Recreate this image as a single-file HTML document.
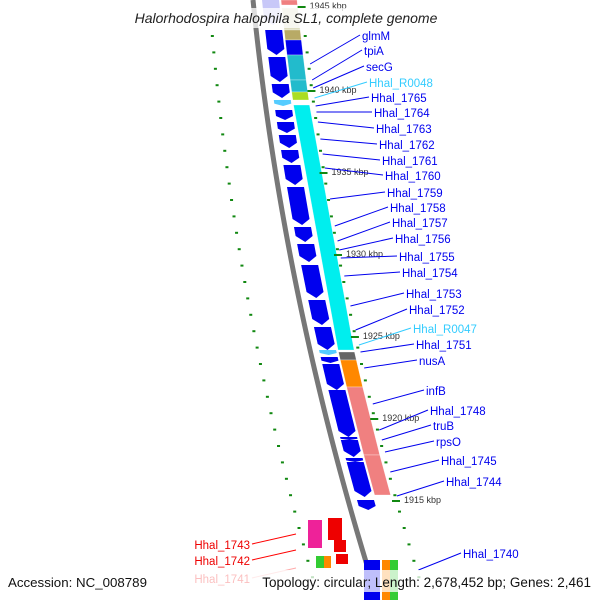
<!DOCTYPE html>
<html><head><meta charset="utf-8"><style>
body{margin:0;background:#fff;}
svg{display:block;font-family:"Liberation Sans",sans-serif;}
</style></head><body>
<svg id="map" width="600" height="600" viewBox="0 0 600 600">
<g id="g"></g>
</svg>
<script>
// data arrays
const kbpLabels = [1945,1940,1935,1930,1925,1920,1915];
const kbpY = [6,90,172,254,336,418,500];
const innerStart = [0,30,57,84,100,110,122,135,150,165,187,227,244,265,300,327,350,357,364,390,437,440,458,462,500];
const innerEnd   = [25,55,82,98,106,120,133,148,163,185,225,242,262,298,325,350,355,363,390,437,440,457,462,497,510];
const innerColor = ['#c8c8f8','#0000ee','#0000ee','#0000ee','#55ccff','#0000ee','#0000ee','#0000ee','#0000ee','#0000ee','#0000ee','#0000ee','#0000ee','#0000ee','#0000ee','#0000ee','#55ccff','#0000ee','#0000ee','#0000ee','#0000ee','#0000ee','#0000ee','#0000ee','#0000ee'];
const outerStart = [0,8,30,40,55,80,92,105,352,360,387,455];
const outerEnd   = [5,30,40,55,80,92,100,350,360,387,455,495];
const outerColor = ['#f08080','#ddddc0','#b8aa66','#0000ee','#22bbcc','#22bbcc','#aadd22','#00eeee','#666666','#ff8800','#f08080','#f08080'];
const labels = ['glmM','tpiA','secG','Hhal_R0048','Hhal_1765','Hhal_1764','Hhal_1763','Hhal_1762','Hhal_1761','Hhal_1760','Hhal_1759','Hhal_1758','Hhal_1757','Hhal_1756','Hhal_1755','Hhal_1754','Hhal_1753','Hhal_1752','Hhal_R0047','Hhal_1751','nusA','infB','Hhal_1748','truB','rpsO','Hhal_1745','Hhal_1744','Hhal_1740'];
const labelX = [362,364,366,369,371,374,376,379,382,385,387,390,392,395,399,402,406,409,413,416,419,426,430,433,436,441,446,463];
const labelY = [37,52,68,84,99,114,130,146,162,177,194,209,224,240,258,274,295,311,330,346,362,392,412,427,443,462,483,555];
const targetY = [64,80,88,98,106,112,122,139,154,168,199,226,241,250,258,276,306,330,345,352,368,404,430,440,452,472,496,570];
const redLabels = ['Hhal_1743','Hhal_1742','Hhal_1741'];
const redY = [546,562,580];

const g = document.getElementById('g');
const NS='http://www.w3.org/2000/svg';
function bx(y){return 253+0.1*y+0.00018*y*y;}
function mk(tag,attrs,parent){const e=document.createElementNS(NS,tag);for(const k in attrs)e.setAttribute(k,attrs[k]);(parent||g).appendChild(e);return e;}
function band(y0,y1,o0,o1){return `${bx(y0)+o0},${y0} ${bx(y0)+o1},${y0} ${bx(y1)+o1},${y1} ${bx(y1)+o0},${y1}`;}

// tick dots
for(let y=35;y<=590;y+=16.4){
  const d1=mk('rect',{x:bx(y)-45-0.025*y,y:y,width:3,height:2,fill:'#118811'});
  
  
  const d2=mk('rect',{x:bx(y)+47,y:y,width:3,height:2,fill:'#118811'});
  
  
}
// backbone
let pts=[];for(let y=0;y<=600;y+=10)pts.push(bx(y)+','+y);
const bb=mk('polyline',{points:pts.join(' '),fill:'none',stroke:'#777',"stroke-width":5});


// inner genes
innerStart.forEach((s,i)=>{
  const e=innerEnd[i];const ah=Math.min(6,(e-s)*0.4);
  const p=`${bx(s)+9},${s} ${bx(s)+26},${s} ${bx(e-ah)+26},${e-ah} ${bx(e)+17.5},${e} ${bx(e-ah)+9},${e-ah}`;
  const el=mk('polygon',{points:p,fill:innerColor[i]});
  
  
});
// outer genes
outerStart.forEach((s,i)=>{
  const el=mk('polygon',{points:band(s,outerEnd[i],28,44),fill:outerColor[i],stroke:'rgba(255,255,255,0.6)',"stroke-width":0.5});
  
  
});
// bottom genes
[[308,520,14,28,'#ee2299'],[328,518,14,22,'#ee0000'],[334,540,12,12,'#ee0000'],[336,554,12,10,'#ee0000'],[316,556,8,12,'#33cc33'],[324,556,7,12,'#ff8800'],[364,560,16,40,'#0000ee'],[382,560,8,40,'#ff8800'],[390,560,8,40,'#33cc33']].forEach(b=>{
  const el=mk('rect',{x:b[0],y:b[1],width:b[2],height:b[3],fill:b[4]});
  
  
});
// kbp labels
kbpLabels.forEach((k,i)=>{
  const y=kbpY[i];
  mk('rect',{x:bx(y)+44,y:y,width:8,height:2,fill:'#118811'});
  const t=mk('text',{x:bx(y)+56,y:y+3,"font-size":9,fill:'#333'});
  t.textContent=k+' kbp';
  
  
});
// gene labels
labels.forEach((l,i)=>{
  const c=l.indexOf('R00')>=0?'#33ccff':'#0000ee';
  const ty=targetY[i];
  mk('line',{x1:bx(ty)+50,y1:ty,x2:labelX[i]-2,y2:labelY[i]-2,stroke:c,"stroke-width":1});
  const t=mk('text',{x:labelX[i],y:labelY[i]+3,"font-size":11.5,fill:c});
  t.textContent=l;
  
  
});
redLabels.forEach((l,i)=>{
  const y=redY[i];
  mk('line',{x1:252,y1:y-2,x2:296,y2:y-12,stroke:i==2?'#ffaaaa':'#ff0000',"stroke-width":1});
  const t=mk('text',{x:250,y:y+3,"font-size":11.5,fill:'#ee0000',"text-anchor":'end'});
  t.textContent=l;
  
  
});
// title & footer
mk('rect',{x:128,y:8,width:316,height:20,fill:'rgba(255,255,255,0.75)'});
const ti=mk('text',{x:286,y:23,"font-size":14,"font-style":'italic',"text-anchor":'middle',fill:'#222'});
ti.textContent='Halorhodospira halophila SL1, complete genome';


mk('rect',{x:0,y:570,width:600,height:22,fill:'rgba(255,255,255,0.75)'});
const a=mk('text',{x:8,y:587,"font-size":13.3,fill:'#111'});
a.textContent='Accession: NC_008789';


const tp=mk('text',{x:591,y:587,"font-size":13.5,fill:'#111',"text-anchor":'end'});
tp.textContent='Topology: circular; Length: 2,678,452 bp; Genes: 2,461';


</script>
</body></html>
